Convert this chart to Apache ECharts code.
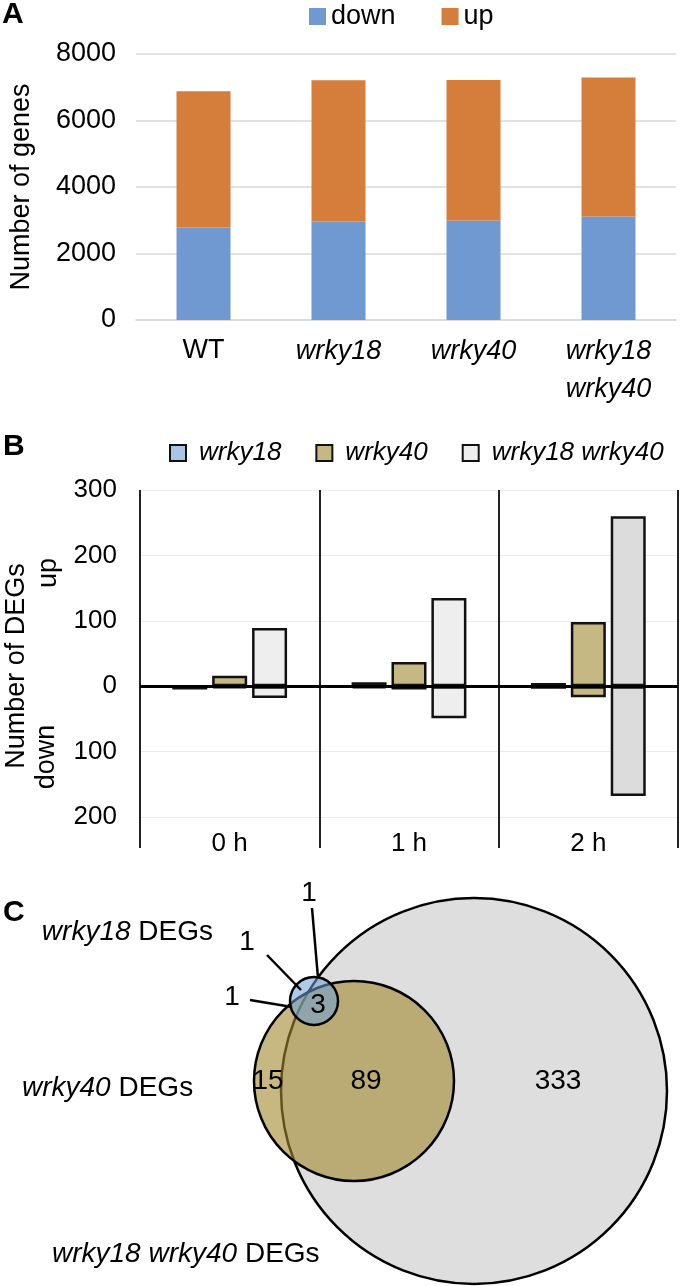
<!DOCTYPE html>
<html><head><meta charset="utf-8">
<script src="https://cdn.jsdelivr.net/npm/echarts@6/dist/echarts.min.js"></script>
<style>html,body{margin:0;padding:0;background:#fff;}#c{width:681px;height:1286px;}</style>
</head><body><div id="c"></div>
<script>
// ---------- Panel A data ----------
const genotypesA = ['WT', 'wrky18', 'wrky40', 'wrky18\nwrky40'];
const downA = [2780, 2960, 2990, 3110];
const upA = [4100, 4250, 4230, 4180];
const legendA = ['down', 'up'];

// ---------- Panel B data ----------
const timesB = ['0 h', '1 h', '2 h'];
const genotypesB = ['wrky18', 'wrky40', 'wrky18 wrky40'];
const upB_wrky18 = [0, 6, 5];
const downB_wrky18 = [5, 3, 4];
const upB_wrky40 = [16, 37, 98];
const downB_wrky40 = [3, 5, 17];
const upB_double = [89, 135, 260];
const downB_double = [18, 49, 168];

// ---------- Panel C data ----------
const vennSetNames = ['wrky18', 'wrky40', 'wrky18 wrky40'];
const vennRegionCounts = ['1', '1', '1', '3', '15', '89', '333'];

// ---------- layout constants (not data) ----------
const FONT = 'Liberation Sans, Arial, Helvetica, sans-serif';
const vennCircleLayout = [ // [cx, cy, r] in panel-C pixel space
  [474, 231, 193],
  [354, 221, 100],
  [314, 141, 24]
];
const vennCircleStyle = [
  {fill: '#DEDEDE'},
  {fill: 'rgba(162,137,47,0.6)'},
  {fill: 'rgba(110,160,215,0.55)'}
];
const vennTextPos = [[309, 33], [247, 82], [232, 137], [318, 145], [268, 221], [366, 221], [558, 221]];
const vennLeaders = [[[312, 48], [318, 118]], [[267, 95], [301, 130]], [[250, 140], [292, 147]]];

const colorsB = ['#A9C4E4', '#C5B882', '#EEEEEE'];
const upB = [upB_wrky18, upB_wrky40, upB_double];
const downB = [downB_wrky18, downB_wrky40, downB_double];

const chart = echarts.init(document.getElementById('c'), null, {renderer: 'canvas'});

const seriesB = [];
genotypesB.forEach((g, k) => {
  const mk = (arr, sign) => arr.map((v, i) => {
    const o = {value: sign * v};
    if (k === 2 && i === 2) o.itemStyle = {color: '#DCDCDC'};
    return o;
  });
  const base = {
    type: 'bar', name: g, stack: 'B' + k, xAxisIndex: 1, yAxisIndex: 1,
    barWidth: 35, barGap: '14%',
    itemStyle: {color: colorsB[k], borderColor: '#111', borderWidth: 2.5}
  };
  seriesB.push(Object.assign({}, base, {data: mk(upB[k], 1)}));
  seriesB.push(Object.assign({}, base, {data: mk(downB[k], -1)}));
});

const italicRich = {
  n: {fontSize: 27, fontFamily: FONT, color: '#000', lineHeight: 38},
  i: {fontSize: 27, fontFamily: FONT, color: '#000', fontStyle: 'italic', lineHeight: 38}
};
const setLabelRich = {
  i: {fontSize: 28, fontFamily: FONT, fontStyle: 'italic', fill: '#000'},
  n: {fontSize: 28, fontFamily: FONT, fill: '#000'}
};

const option = {
  animation: false,
  textStyle: {fontFamily: FONT},
  legend: [
    {
      data: legendA, left: 304, top: -2, itemWidth: 17, itemHeight: 17, itemGap: 46,
      icon: 'rect', selectedMode: false,
      textStyle: {fontSize: 27, color: '#000', fontFamily: FONT}
    },
    {
      data: genotypesB, left: 164, top: 435, itemWidth: 16, itemHeight: 16, itemGap: 34,
      icon: 'rect', selectedMode: false,
      itemStyle: {borderColor: '#111', borderWidth: 2},
      textStyle: {fontSize: 26, color: '#000', fontStyle: 'italic', fontFamily: FONT, padding: [0, 0, 0, 8]}
    }
  ],
  grid: [
    {left: 130, top: 54, width: 546, height: 266},
    {left: 140, top: 490, width: 538, height: 327},
    {left: 0, top: 860, width: 681, height: 426}
  ],
  xAxis: [
    {
      type: 'category', gridIndex: 0, data: genotypesA,
      axisLine: {lineStyle: {color: '#D9D9D9', width: 1.5}},
      axisTick: {show: false},
      axisLabel: {
        margin: 12, interval: 0,
        formatter: v => v === 'WT' ? '{n|WT}' : v.split('\n').map(s => '{i|' + s + '}').join('\n'),
        rich: italicRich
      }
    },
    {
      type: 'category', gridIndex: 1, data: timesB, position: 'bottom',
      axisLine: {show: false, onZero: false},
      axisTick: {show: true, length: 31, lineStyle: {color: '#222', width: 2}},
      splitLine: {show: true, lineStyle: {color: '#222', width: 2}},
      axisLabel: {fontSize: 26, color: '#000', margin: 14}
    },
    {type: 'value', gridIndex: 2, min: 0, max: 681, show: false}
  ],
  yAxis: [
    {
      type: 'value', gridIndex: 0, min: 0, max: 8000, interval: 2000,
      axisLine: {show: false}, axisTick: {show: false},
      axisLabel: {fontSize: 27, color: '#000', margin: 20, formatter: v => String(v)},
      splitLine: {lineStyle: {color: '#D9D9D9', width: 1.5}},
      name: 'Number of genes', nameLocation: 'middle', nameGap: 101,
      nameTextStyle: {fontSize: 27, color: '#000'}
    },
    {
      type: 'value', gridIndex: 1, min: -200, max: 300, interval: 100,
      axisLine: {show: false}, axisTick: {show: false},
      axisLabel: {fontSize: 26, color: '#000', margin: 23, formatter: v => String(Math.abs(v))},
      splitLine: {lineStyle: {color: '#EBEBEB', width: 1}}
    },
    {type: 'value', gridIndex: 2, min: 0, max: 426, inverse: true, show: false}
  ],
  graphic: [
    {type: 'text', left: 2, top: 0, style: {text: 'A', font: 'bold 30px ' + FONT, fill: '#000'}},
    {type: 'text', left: 3, top: 432, style: {text: 'B', font: 'bold 30px ' + FONT, fill: '#000'}},
    {type: 'text', left: 3, top: 898, style: {text: 'C', font: 'bold 30px ' + FONT, fill: '#000'}},
    {type: 'text', x: 17, y: 666, rotation: Math.PI / 2,
      style: {text: 'Number of DEGs', font: '27px ' + FONT, fill: '#000', textAlign: 'center', textVerticalAlign: 'middle'}},
    {type: 'text', x: 49, y: 573, rotation: Math.PI / 2,
      style: {text: 'up', font: '27px ' + FONT, fill: '#000', textAlign: 'center', textVerticalAlign: 'middle'}},
    {type: 'text', x: 47, y: 757, rotation: Math.PI / 2,
      style: {text: 'down', font: '27px ' + FONT, fill: '#000', textAlign: 'center', textVerticalAlign: 'middle'}},
    {type: 'text', right: 681 - 213, top: 918,
      style: {text: '{i|' + vennSetNames[0] + '}{n| DEGs}', rich: setLabelRich}},
    {type: 'text', left: 22, top: 1074,
      style: {text: '{i|' + vennSetNames[1] + '}{n| DEGs}', rich: setLabelRich}},
    {type: 'text', left: 52, top: 1240,
      style: {text: '{i|' + vennSetNames[2] + '}{n| DEGs}', rich: setLabelRich}}
  ],
  series: [
    {type: 'bar', name: 'down', stack: 'A', xAxisIndex: 0, yAxisIndex: 0, barWidth: '40%',
      data: downA, itemStyle: {color: '#7199D1'}},
    {type: 'bar', name: 'up', stack: 'A', xAxisIndex: 0, yAxisIndex: 0, barWidth: '40%',
      data: upA, itemStyle: {color: '#D57D3B'}},
    ...seriesB,
    {type: 'line', xAxisIndex: 1, yAxisIndex: 1, data: [], z: 5, silent: true,
      markLine: {silent: true, symbol: 'none', label: {show: false},
        lineStyle: {color: '#000', width: 3, type: 'solid'}, data: [{yAxis: 0}]}},
    {
      type: 'custom', xAxisIndex: 2, yAxisIndex: 2, silent: true,
      data: vennCircleLayout,
      renderItem: (params, api) => {
        const c = api.coord([api.value(0), api.value(1)]);
        const r = api.size([api.value(2), 0])[0];
        return {type: 'circle', shape: {cx: c[0], cy: c[1], r: r},
          style: {fill: vennCircleStyle[params.dataIndex].fill, stroke: '#000', lineWidth: 2.5}};
      }
    },
    {
      type: 'custom', xAxisIndex: 2, yAxisIndex: 2, silent: true,
      data: vennLeaders.map(l => [l[0][0], l[0][1], l[1][0], l[1][1]]),
      renderItem: (params, api) => {
        const a = api.coord([api.value(0), api.value(1)]);
        const b = api.coord([api.value(2), api.value(3)]);
        return {type: 'line', shape: {x1: a[0], y1: a[1], x2: b[0], y2: b[1]},
          style: {stroke: '#000', lineWidth: 2.5}};
      }
    },
    {
      type: 'custom', xAxisIndex: 2, yAxisIndex: 2, silent: true, z: 10,
      data: vennRegionCounts.map((t, i) => [vennTextPos[i][0], vennTextPos[i][1], t]),
      renderItem: (params, api) => {
        const c = api.coord([api.value(0), api.value(1)]);
        return {type: 'text', x: c[0], y: c[1],
          style: {text: vennRegionCounts[params.dataIndex], font: '28px ' + FONT, fill: '#000',
            textAlign: 'center', textVerticalAlign: 'middle'}};
      }
    }
  ]
};
chart.setOption(option);
</script>
</body></html>
